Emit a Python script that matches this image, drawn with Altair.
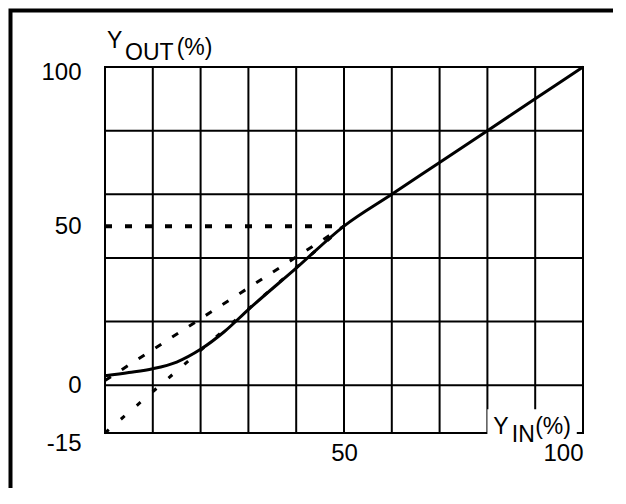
import altair as alt
import pandas as pd

# ---- data ----
x_grid = [0, 10, 20, 30, 40, 50, 60, 70, 80, 90, 100]
y_grid = [0, 20, 40, 60, 80, 100]

curve_x = [0, 5, 10, 15, 20, 25, 30, 40, 50, 60, 70, 80, 90, 100]
curve_y = [3, 4, 5.2, 7.3, 11.3, 16.9, 23.8, 36.8, 50, 60, 70, 80, 90, 100]

upper_x = [0, 50]
upper_y = [1.5, 50]

lower_x = [0, 50]
lower_y = [-15, 50]

ref_x = [0, 50]
ref_y = [50, 50]

x_tick_values = [50, 100]
y_tick_values = [100, 50, 0, -15]

# axis-title annotation pieces (text with subscript)
ann_text = ["Y", "OUT", "(%)", "Y", "IN", "(%)"]
ann_x = [0.4, 4.2, 15.0, 81.2, 85.1, 90.0]
ann_y = [106.0, 102.2, 103.8, -15.3, -17.9, -15.4]

mask_x, mask_x2, mask_y, mask_y2 = [80.0], [98.7], [-7.5], [-16.0]

FONT = "Liberation Sans"

xscale = alt.Scale(domain=[0, 100], nice=False, zero=False)
yscale = alt.Scale(domain=[-15, 100], nice=False, zero=False)

x_axis = alt.Axis(values=x_tick_values, title=None, labelFontSize=24, labelPadding=8,
                  labelFont=FONT, labelColor="black", domain=False, ticks=False, grid=False)
y_axis = alt.Axis(values=y_tick_values, title=None, labelFontSize=24, labelPadding=24,
                  labelFont=FONT, labelColor="black", domain=False, ticks=False, grid=False,
                  labelExpr="'' + datum.value",
                  labelOffset={"condition": [{"test": "datum.value == 100", "value": 5},
                                             {"test": "datum.value == -15", "value": 10}],
                               "value": 0})

def X(f="x"):
    return alt.X(f"{f}:Q", scale=xscale, axis=x_axis)

def Y(f="y"):
    return alt.Y(f"{f}:Q", scale=yscale, axis=y_axis)

vgrid = alt.Chart(pd.DataFrame({"x": x_grid})).mark_rule(color="black", strokeWidth=2).encode(x=X())
hgrid = alt.Chart(pd.DataFrame({"y": y_grid})).mark_rule(color="black", strokeWidth=2).encode(y=Y())

mask = alt.Chart(pd.DataFrame({"x": mask_x, "x2": mask_x2, "y": mask_y, "y2": mask_y2})).mark_rect(
    color="white").encode(x=X(), x2="x2:Q", y=Y(), y2="y2:Q")

solid = alt.Chart(pd.DataFrame({"x": curve_x, "y": curve_y})).mark_line(
    color="black", strokeWidth=3, interpolate="monotone").encode(x=X(), y=Y())

upper = alt.Chart(pd.DataFrame({"x": upper_x, "y": upper_y})).mark_line(
    color="black", strokeWidth=3, strokeDash=[7, 13]).encode(x=X(), y=Y())

lower = alt.Chart(pd.DataFrame({"x": lower_x, "y": lower_y})).mark_line(
    color="black", strokeWidth=3, strokeDash=[5, 16]).encode(x=X(), y=Y())

ref = alt.Chart(pd.DataFrame({"x": ref_x, "y": ref_y})).mark_line(
    color="black", strokeWidth=4, strokeDash=[7, 13]).encode(x=X(), y=Y())

ann = alt.Chart(pd.DataFrame({"x": ann_x, "y": ann_y, "t": ann_text})).mark_text(
    font=FONT, fontSize=23, align="left", baseline="alphabetic", color="black").encode(
    x=X(), y=Y(), text="t:N")

# outer frame: only its top and left edges fall inside the page
frame = alt.Chart(pd.DataFrame({"a": [0]})).mark_rect(
    fill="transparent", stroke="black", strokeWidth=4).encode(
    x=alt.value(-94.5), x2=alt.value(620), y=alt.value(-56.5), y2=alt.value(520))

chart = alt.layer(vgrid, hgrid, mask, ref, upper, lower, solid, ann, frame).properties(
    width=478, height=366,
    autosize=alt.AutoSizeParams(type="none"),
    padding={"left": 97, "top": 59, "right": 30, "bottom": 55},
    background="white",
).configure_view(stroke="black", strokeWidth=2)

chart.save("out.html", embed_options={"renderer": "svg", "actions": False})
